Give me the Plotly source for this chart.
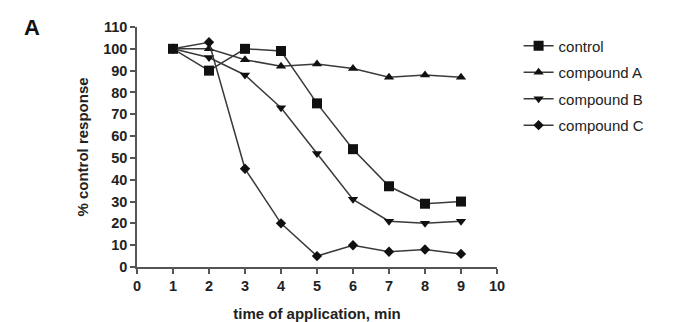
import plotly.graph_objects as go

time_min = [1, 2, 3, 4, 5, 6, 7, 8, 9]
control = [100, 90, 100, 99, 75, 54, 37, 29, 30]
compound_a = [100, 100, 95, 92, 93, 91, 87, 88, 87]
compound_b = [100, 96, 88, 73, 52, 31, 21, 20, 21]
compound_c = [100, 103, 45, 20, 5, 10, 7, 8, 6]

series_names = ["control", "compound A", "compound B", "compound C"]
x_ticks = list(range(0, 11))
y_ticks = list(range(0, 111, 10))

FONT = "Liberation Sans, Arial, sans-serif"
TXT = "#222222"

fig = go.Figure()
specs = [
    (control, "square", 10),
    (compound_a, "triangle-up", 9),
    (compound_b, "triangle-down", 9),
    (compound_c, "diamond", 8),
]
for name, (vals, sym, sz) in zip(series_names, specs):
    fig.add_trace(go.Scatter(
        x=time_min, y=vals, name=name, mode="lines+markers",
        legendgroup=name,
        line=dict(color="#3a3a3a", width=1.5),
        marker=dict(symbol=sym, size=sz, color="#111111"),
        cliponaxis=False,
    ))

axis_common = dict(
    showgrid=False, zeroline=False, showline=True, linecolor="#555555", linewidth=1.5,
    ticks="outside", ticklen=5, tickwidth=1.5, tickcolor="#555555",
    tickfont=dict(family=FONT, size=14.5, color=TXT, weight="bold"),
    automargin=False,
)
fig.update_xaxes(range=[0, 10], tickvals=x_ticks, **axis_common,
                 title=dict(text="time of application, min",
                            font=dict(family=FONT, size=15, color=TXT, weight="bold"),
                            standoff=15))
fig.update_yaxes(range=[0, 110], tickvals=y_ticks, **axis_common,
                 title=dict(text="% control response",
                            font=dict(family=FONT, size=15, color=TXT, weight="bold"),
                            standoff=11))

fig.add_annotation(text="A", xref="paper", yref="paper", x=-0.32, y=1.0,
                   xanchor="left", yanchor="middle", showarrow=False,
                   font=dict(family=FONT, size=22, color="#111111", weight="bold"))

fig.update_layout(
    width=673, height=322,
    margin=dict(l=129, r=184, t=19, b=63, autoexpand=False),
    paper_bgcolor="white", plot_bgcolor="white",
    showlegend=True,
    legend=dict(x=1.06, y=0.99, xanchor="left", yanchor="top",
                font=dict(family=FONT, size=15, color=TXT),
                tracegroupgap=4, itemwidth=30, bgcolor="rgba(0,0,0,0)"),
)

fig.write_html("out.html")
